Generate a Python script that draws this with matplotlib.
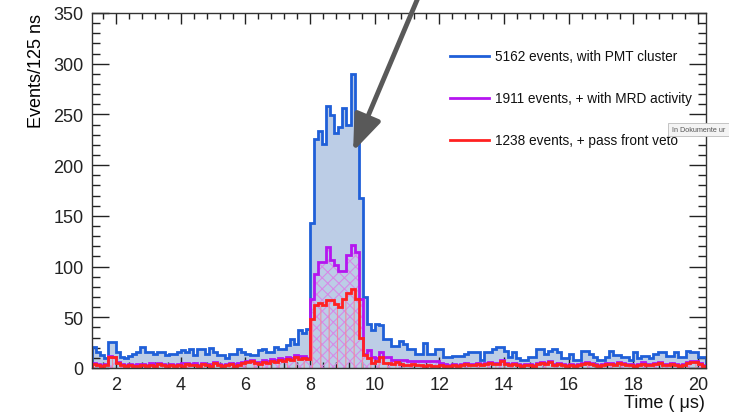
import numpy as np
import matplotlib
matplotlib.use("Agg")
import matplotlib.pyplot as plt
from matplotlib.lines import Line2D
from matplotlib.patches import FancyArrowPatch, FancyBboxPatch
from matplotlib.ticker import MultipleLocator

plt.rcParams['font.family'] = ['Liberation Sans', 'DejaVu Sans']

# 125 ns bins from 1.25 us to 20.25 us
t_start = 1.25
bin_width = 0.125

# events with a PMT cluster
pmt_cluster = [
    21, 16, 13, 10, 26, 26, 16, 11, 10, 12, 14, 16, 21, 16, 16, 14, 16, 16, 13, 14,
    14, 16, 18, 16, 19, 13, 19, 19, 14, 20, 16, 13, 13, 10, 14, 14, 19, 16, 14, 13,
    13, 18, 19, 16, 16, 21, 19, 19, 23, 29, 24, 37, 35, 38,
    143, 226, 234, 221, 258, 249, 232, 238, 256, 240, 290, 242, 168, 70,
    43, 37, 43, 42, 29, 29, 22, 22, 27, 24, 19, 19, 14, 14, 25, 14, 14, 19, 19, 11,
    11, 12, 12, 12, 14, 16, 16, 16, 8, 16, 16, 19, 21, 21, 17, 11, 16, 10, 8, 8,
    11, 11, 19, 19, 14, 17, 19, 16, 10, 10, 14, 8, 8, 17, 17, 14, 11, 8, 8, 11,
    17, 13, 13, 11, 11, 8, 16, 10, 12, 12, 10, 14, 16, 16, 12, 12, 16, 11, 11, 17,
    16, 16, 11, 11,
]

# + with MRD activity
mrd_activity = [
    5, 4, 3, 4, 12, 11, 6, 4, 3, 4, 3, 4, 4, 3, 5, 4, 5, 4, 3, 4,
    3, 4, 5, 5, 4, 5, 3, 5, 4, 4, 6, 4, 3, 4, 5, 4, 5, 6, 7, 8,
    6, 6, 8, 7, 9, 8, 10, 9, 11, 10, 13, 12, 12, 10,
    68, 93, 105, 105, 119, 106, 102, 96, 96, 111, 121, 114, 68, 14,
    18, 11, 10, 16, 11, 11, 8, 8, 8, 8, 7, 7, 7, 7, 7, 7, 7, 7, 5, 4,
    3, 4, 3, 4, 5, 4, 4, 5, 4, 5, 6, 5, 5, 8, 5, 4, 5, 4, 3, 4,
    4, 3, 5, 6, 5, 7, 4, 5, 4, 3, 4, 3, 4, 5, 6, 5, 4, 3, 4, 5,
    5, 4, 6, 5, 4, 4, 3, 4, 6, 4, 4, 5, 6, 4, 4, 5, 4, 3, 4, 6,
    7, 7, 5, 3,
]

# + pass front veto
front_veto = [
    4, 3, 2, 3, 11, 11, 5, 3, 2, 3, 2, 2, 3, 2, 3, 2, 4, 3, 2, 3,
    2, 3, 2, 4, 3, 3, 2, 4, 3, 2, 5, 3, 2, 3, 4, 2, 3, 5, 6, 7,
    5, 4, 6, 5, 7, 6, 8, 7, 9, 8, 11, 9, 10, 9,
    48, 62, 64, 62, 67, 67, 63, 60, 68, 74, 78, 68, 30, 13,
    10, 5, 7, 11, 5, 5, 4, 6, 4, 3, 3, 4, 3, 3, 2, 3, 2, 2, 3, 2,
    2, 3, 2, 3, 4, 3, 3, 4, 3, 4, 5, 4, 4, 7, 4, 3, 4, 3, 2, 3,
    3, 2, 4, 5, 4, 6, 3, 4, 3, 2, 3, 2, 3, 4, 5, 4, 3, 2, 3, 4,
    4, 3, 5, 4, 3, 3, 2, 3, 4, 3, 3, 4, 5, 3, 3, 4, 3, 2, 3, 5,
    6, 6, 4, 2,
]

legend_labels = [
    "5162 events, with PMT cluster",
    "1911 events, + with MRD activity",
    "1238 events, + pass front veto",
]

x_ticks = [2, 4, 6, 8, 10, 12, 14, 16, 18, 20]
y_ticks = [0, 50, 100, 150, 200, 250, 300, 350]

blue = "#1f5fd8"
blue_fill = "#bccde6"
purple = "#b515f0"
red = "#ff2121"

n_bins = len(pmt_cluster)
edges = t_start + bin_width * np.arange(n_bins + 1)

W, H = 729, 414
fig = plt.figure(figsize=(W / 100, H / 100), dpi=100)
ax = fig.add_axes([92 / W, 1 - 369 / H, (706 - 92) / W, (369 - 14) / H])

# fills
ax.stairs(pmt_cluster, edges, fill=True, color=blue_fill, lw=0, zorder=1)
plt.rcParams['hatch.linewidth'] = 0.8
ax.stairs(mrd_activity, edges, fill=True, facecolor="none", edgecolor="#d68be6",
          hatch="xxx", lw=0, zorder=2)
ax.stairs(front_veto, edges, fill=True, facecolor="none", edgecolor="#f08aa0",
          hatch="||", lw=0, zorder=3)

# outlines
ax.stairs(pmt_cluster, edges, color=blue, lw=2.0, zorder=4)
ax.stairs(mrd_activity, edges, color=purple, lw=2.0, zorder=5)
ax.stairs(front_veto, edges, color=red, lw=2.0, zorder=6)

ax.set_xlim(edges[0], edges[-1])
ax.set_ylim(0, 350)
ax.set_xticks(x_ticks)
ax.set_yticks(y_ticks)
ax.xaxis.set_minor_locator(MultipleLocator(0.4))
ax.yaxis.set_minor_locator(MultipleLocator(10))
ax.tick_params(which="both", direction="in", top=True, right=True,
               labelsize=13, width=1.0, colors="#222222")
ax.tick_params(axis="y", which="major", length=12, pad=6)
ax.tick_params(axis="y", which="minor", length=5.5)
ax.tick_params(axis="x", which="major", length=8, pad=6)
ax.tick_params(axis="x", which="minor", length=4)
for s in ax.spines.values():
    s.set_linewidth(1.0)
    s.set_color("#333333")
    s.set_zorder(10)

ax.set_ylabel("Events/125 ns", fontsize=13, loc="top", labelpad=6)
fig.text(705 / W, 1 - 404 / H, "Time ( μs)", fontsize=13, ha="right",
         va="center", color="#111111")

# legend drawn in pixel positions of the figure
legend_colors = [blue, purple, red]
legend_rows = [57, 99, 141]
for lab, col, yp in zip(legend_labels, legend_colors, legend_rows):
    yf = 1 - yp / H
    fig.add_artist(Line2D([450 / W, 489 / W], [yf, yf], color=col, lw=2.0,
                          transform=fig.transFigure))
    fig.text(495 / W, yf, lab, fontsize=9.8, va="center", ha="left",
             color="#111111")

# pointer arrow
arrow = FancyArrowPatch((420 / W, 1 + 6 / H), (352 / W, 1 - 155 / H),
                        transform=fig.transFigure,
                        arrowstyle="-|>,head_length=1.1,head_width=0.42",
                        mutation_scale=20, lw=3.5, color="#595959", zorder=20)
fig.add_artist(arrow)

# small tooltip box at the right edge
fig.add_artist(FancyBboxPatch((668 / W, 1 - 137 / H), 70 / W, 13 / H,
                              boxstyle="square,pad=0", transform=fig.transFigure,
                              facecolor="#f4f4f4", edgecolor="#bbbbbb", lw=0.6,
                              zorder=30))
fig.text(672 / W, 1 - 130.5 / H, "In Dokumente ur", fontsize=5.2, va="center",
         ha="left", color="#555555", zorder=31)

fig.savefig("out.png", dpi=100)
